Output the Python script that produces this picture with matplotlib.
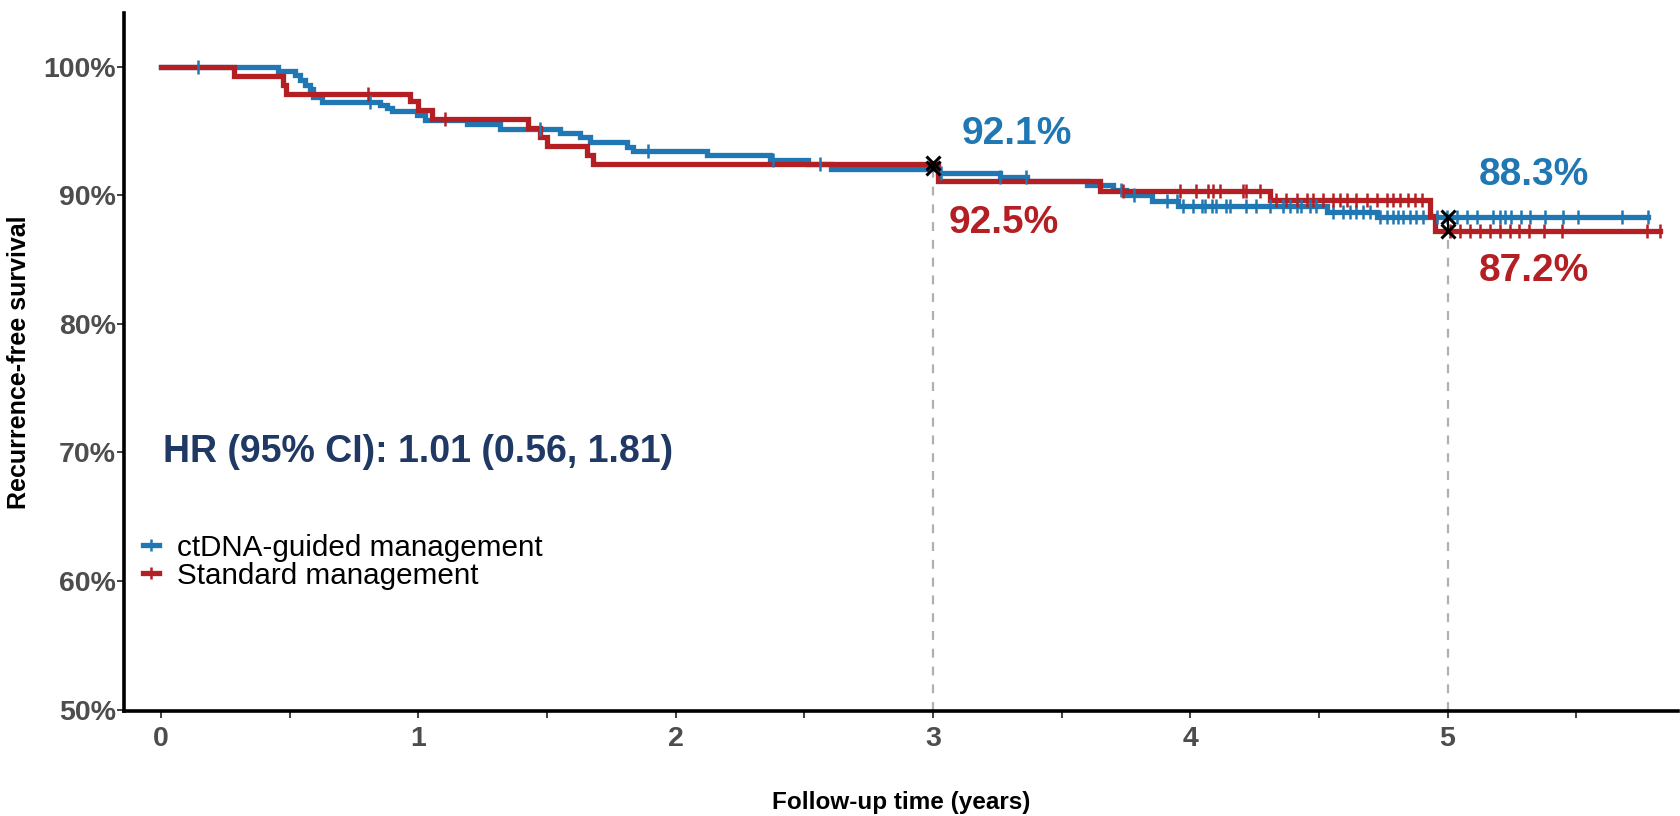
import numpy as np
import matplotlib as mpl
mpl.use('Agg')
import matplotlib.pyplot as plt
from matplotlib.lines import Line2D

plt.rcParams['font.family'] = ['Liberation Sans', 'DejaVu Sans']

# ---------------- data ----------------
# ctDNA-guided management: event times (years) and survival (%) after each step
blue_t = [0, 0.457, 0.521, 0.541, 0.56, 0.58, 0.593, 0.625, 0.852, 0.877, 0.897,
          0.994, 1.026, 1.188, 1.318, 1.551, 1.629, 1.667, 1.81, 1.836, 2.121,
          2.367, 2.516, 2.606, 3.02, 3.26, 3.364, 3.597, 3.70, 3.752, 3.85,
          3.953, 4.53, 4.724]
blue_s = [100, 99.67, 99.34, 98.95, 98.61, 98.3, 97.65, 97.27, 97.0, 96.75, 96.54,
          96.28, 95.84, 95.58, 95.19, 94.88, 94.54, 94.15, 93.77, 93.45, 93.12,
          92.78, 92.45, 92.08, 91.74, 91.43, 91.12, 90.79, 90.4, 90.0, 89.57,
          89.15, 88.71, 88.32]
blue_cens = [0.146, 0.813, 1.473, 1.894, 2.38, 2.56, 3.03, 3.26, 3.36, 3.73, 3.78,
             3.91, 3.95, 3.973, 4.01, 4.044, 4.057, 4.083, 4.10, 4.14, 4.153, 4.218,
             4.257, 4.309, 4.36, 4.387, 4.413, 4.43, 4.465, 4.49, 4.556, 4.594,
             4.62, 4.646, 4.672, 4.697, 4.737, 4.763, 4.789, 4.807, 4.827, 4.853,
             4.879, 4.905, 4.957, 4.996, 5.035, 5.074, 5.113, 5.177, 5.203, 5.222,
             5.248, 5.287, 5.32, 5.378, 5.45, 5.507, 5.676, 5.78]

# Standard management
red_t = [0, 0.284, 0.476, 0.485, 0.968, 1.0, 1.052, 1.428, 1.473, 1.499, 1.655,
         1.68, 3.02, 3.649, 4.309, 4.93, 4.95]
red_s = [100, 99.3, 98.6, 97.9, 97.3, 96.6, 95.9, 95.2, 94.54, 93.82, 93.12,
         92.42, 91.1, 90.34, 89.6, 88.4, 87.2]
red_cens = [0.806, 1.104, 3.74, 3.96, 4.024, 4.069, 4.089, 4.115, 4.205, 4.218,
            4.27, 4.335, 4.374, 4.413, 4.452, 4.478, 4.517, 4.556, 4.582, 4.608,
            4.646, 4.685, 4.724, 4.763, 4.789, 4.815, 4.847, 4.873, 4.899, 5.01,
            5.049, 5.088, 5.127, 5.166, 5.205, 5.244, 5.276, 5.315, 5.373, 5.444,
            5.774, 5.825]

landmarks = [3, 5]
blue_lm = [92.1, 88.3]
red_lm = [92.5, 87.2]

labels = ['ctDNA-guided management', 'Standard management']
hr_text = 'HR (95% CI): 1.01 (0.56, 1.81)'

BLUE = '#1f77b4'
RED = '#b41f24'

fig = plt.figure(figsize=(16.81, 8.16), dpi=100)
ax = fig.add_axes([0.0738, 0.1287, 0.9242, 0.8553])


def km(ax, t, s, cens, color):
    t = np.asarray(t, float)
    s = np.asarray(s, float)
    end = max(cens)
    tt = np.append(t, end)
    ss = np.append(s, s[-1])
    ax.step(tt, ss, where='post', color=color, lw=3.8, solid_joinstyle='miter', zorder=3)
    c = np.asarray(cens, float)
    idx = np.searchsorted(t, c, side='right') - 1
    ax.plot(c, s[idx], ls='none', marker='|', ms=10, mew=1.8, color=color, zorder=4)


km(ax, blue_t, blue_s, blue_cens, BLUE)
km(ax, red_t, red_s, red_cens, RED)

# landmark dashed lines and markers
for i, lt in enumerate(landmarks):
    lo = min(blue_lm[i], red_lm[i])
    hi = max(blue_lm[i], red_lm[i])
    ax.vlines(lt, 49.9, lo - 0.3, colors='#b0b0b0', linestyles=(0, (4, 4)), lw=1.6, zorder=2)
    ax.plot([lt, lt], [lo, hi], color='black', lw=1.5, zorder=5)
    ax.plot([lt, lt], [lo, hi], ls='none', marker='x', ms=10, mew=2.2, color='black', zorder=5)

# landmark percentages
ax.text(3.11, 94.75, f'{blue_lm[0]}%', color=BLUE, fontsize=28, fontweight='bold', ha='left', va='center')
ax.text(3.06, 87.83, f'{red_lm[0]}%', color=RED, fontsize=28, fontweight='bold', ha='left', va='center')
ax.text(5.12, 91.58, f'{blue_lm[1]}%', color=BLUE, fontsize=28, fontweight='bold', ha='left', va='center')
ax.text(5.12, 84.08, f'{red_lm[1]}%', color=RED, fontsize=28, fontweight='bold', ha='left', va='center')

ax.text(0.008, 70.0, hr_text, color='#1f3864', fontsize=27, fontweight='bold', ha='left', va='center')

# legend
handles = [Line2D([], [], color=BLUE, lw=3.8, marker='|', ms=8, mew=1.8),
           Line2D([], [], color=RED, lw=3.8, marker='|', ms=8, mew=1.8)]
ax.legend(handles, labels, loc='center left', bbox_to_anchor=(0.012, 0.214),
          frameon=False, fontsize=21.3, handlelength=0.55, handletextpad=0.6,
          labelspacing=0.0, borderpad=0, borderaxespad=0)

# axes
ax.set_xlim(-0.143, 5.894)
ax.set_ylim(49.9, 104.17)
ax.set_xticks(np.arange(0, 5.51, 0.5))
ax.set_xticklabels([str(int(v)) if v == int(v) else '' for v in np.arange(0, 5.51, 0.5)])
ax.set_yticks([50, 60, 70, 80, 90, 100])
ax.set_yticklabels(['50%', '60%', '70%', '80%', '90%', '100%'])
for lab in ax.get_xticklabels() + ax.get_yticklabels():
    lab.set_fontweight('bold')
ax.tick_params(axis='both', labelsize=20.5, labelcolor='#4d4d4d', color='#333333',
               length=5, width=1.3)
ax.tick_params(axis='y', pad=1)
ax.tick_params(axis='x', pad=6)

for side in ['top', 'right']:
    ax.spines[side].set_visible(False)
for side in ['left', 'bottom']:
    ax.spines[side].set_linewidth(2.6)
    ax.spines[side].set_color('black')

ax.set_xlabel('Follow-up time (years)', fontsize=17.5, fontweight='bold')
ax.set_ylabel('Recurrence-free survival', fontsize=18, fontweight='bold')
ax.xaxis.set_label_coords(0.5, -0.115)
ax.yaxis.set_label_coords(-0.06, 0.5)

fig.savefig('out.png', dpi=100)
